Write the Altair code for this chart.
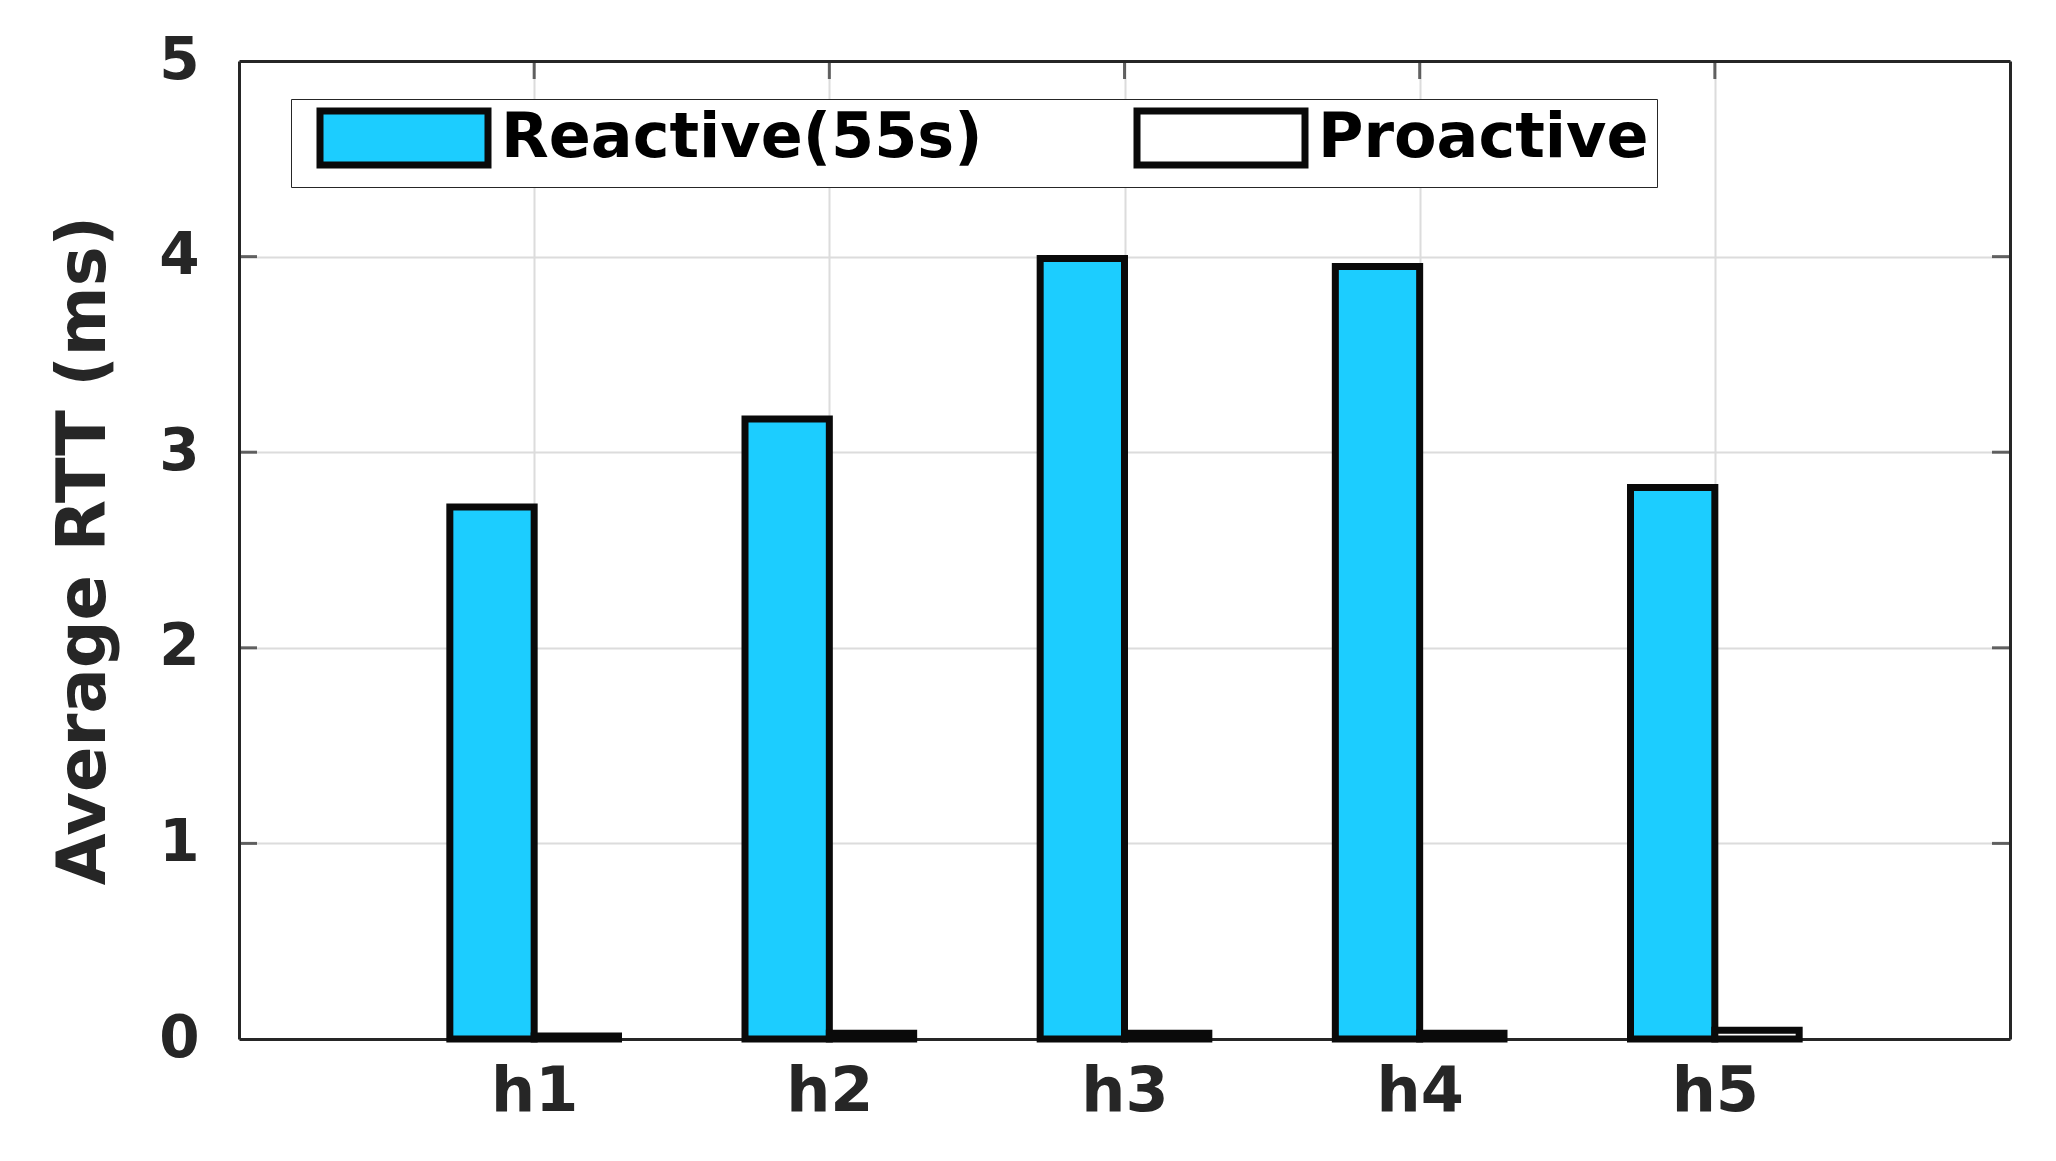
import altair as alt
import pandas as pd

hosts = ["h1", "h2", "h3", "h4", "h5"]
reactive = [2.72, 3.17, 3.99, 3.95, 2.82]
proactive = [0.015, 0.03, 0.03, 0.03, 0.045]
series = ["Reactive(55s)", "Proactive"]
y_ticks = [0, 1, 2, 3, 4, 5]
x_ticks = [1, 2, 3, 4, 5]

W, H = 1771, 978
BAR_W = 2 / 7
DARK = "#262626"
FONT = "DejaVu Sans"

rows = []
for i, h in enumerate(hosts):
    pos = i + 1
    rows.append(dict(host=h, series=series[0], x0=pos - BAR_W, x1=pos, value=reactive[i], base=0))
    rows.append(dict(host=h, series=series[1], x0=pos, x1=pos + BAR_W, value=proactive[i], base=0))
df = pd.DataFrame(rows)

xs = alt.Scale(domain=[0, 6], nice=False, zero=False)
ys = alt.Scale(domain=[0, 5], nice=False)

x_axis = alt.Axis(values=x_ticks, labelExpr="'h' + datum.value", title=None,
                  labelFont=FONT, labelFontWeight="bold", labelFontSize=62, labelColor=DARK,
                  labelPadding=22, ticks=False,
                  domain=True, domainColor=DARK, domainWidth=3,
                  grid=True, gridColor="#dcdcdc", gridWidth=2)
y_axis = alt.Axis(values=y_ticks, title="Average RTT (ms)", format="d",
                  labelFont=FONT, labelFontWeight="bold", labelFontSize=58, labelColor=DARK,
                  labelPadding=40, ticks=False,
                  domain=True, domainColor=DARK, domainWidth=3,
                  titleFont=FONT, titleFontWeight="bold", titleFontSize=67, titleColor=DARK,
                  titlePadding=40,
                  grid=True, gridColor="#dcdcdc", gridWidth=2)
frame_y = alt.Axis(orient="right", labels=False, ticks=False, grid=False, title=None,
                   domain=True, domainColor=DARK, domainWidth=3)
frame_x = alt.Axis(orient="top", labels=False, ticks=False, grid=False, title=None,
                   domain=True, domainColor=DARK, domainWidth=3)

legend = alt.Legend(title=None, orient="none", legendX=52, legendY=38,
                    direction="horizontal", columns=2, columnPadding=133,
                    symbolType="M-3.111,-1H3.111V1H-3.111Z", symbolSize=54 * 54,
                    symbolStrokeColor="#0a0a0a", symbolStrokeWidth=7,
                    symbolOffset=74, labelOffset=66,
                    labelFont=FONT, labelFontWeight="bold", labelFontSize=62,
                    labelColor="#000000", labelLimit=2000,
                    fillColor="white", strokeColor=DARK,
                    padding=8)

bars = alt.Chart(df).mark_rect(stroke="#0a0a0a", strokeWidth=7).encode(
    x=alt.X("x0:Q", scale=xs, axis=x_axis),
    x2="x1:Q",
    y=alt.Y("value:Q", scale=ys, axis=y_axis),
    y2="base:Q",
    fill=alt.Fill("series:N", scale=alt.Scale(domain=series, range=["#1ccdff", "#ffffff"]),
                  legend=legend),
)

ydf = pd.DataFrame({"t": y_ticks[1:-1]})
xdf = pd.DataFrame({"t": x_ticks})

left_ticks = alt.Chart(ydf).mark_tick(orient="horizontal", size=18, thickness=3, color=DARK).encode(
    y=alt.Y("t:Q", scale=ys, axis=None), x=alt.value(9))
right_ticks = alt.Chart(ydf).mark_tick(orient="horizontal", size=18, thickness=3, color=DARK).encode(
    y=alt.Y("t:Q", scale=ys, axis=frame_y), x=alt.value(W - 9))
top_ticks = alt.Chart(xdf).mark_tick(orient="vertical", size=18, thickness=3, color=DARK).encode(
    x=alt.X("t:Q", scale=xs, axis=frame_x), y=alt.value(9))
bottom_ticks = alt.Chart(xdf).mark_tick(orient="vertical", size=18, thickness=3, color=DARK).encode(
    x=alt.X("t:Q", scale=xs, axis=None), y=alt.value(H - 9))

chart = alt.layer(left_ticks, right_ticks, top_ticks, bottom_ticks, bars).resolve_axis(
    x="independent", y="independent"
).properties(
    width=W, height=H,
    padding={"left": 42, "top": 24, "right": 5, "bottom": 5},
).configure_view(stroke="transparent").configure_legend(
    strokeWidth=2.5, cornerRadius=0
).configure(background="white")

chart.save("out.html", embed_options={"renderer": "svg", "actions": False})
